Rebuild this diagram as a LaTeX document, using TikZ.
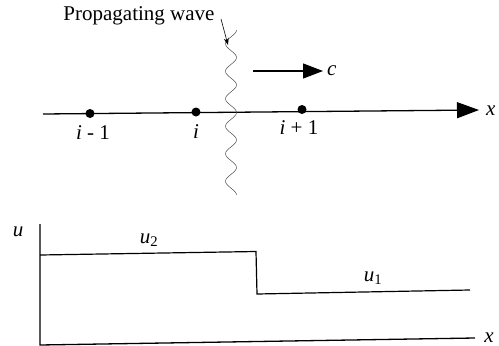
\documentclass[tikz,border=0pt]{standalone}
\usepackage{fontspec}
\setmainfont{Liberation Serif}
\usetikzlibrary{arrows.meta}
\begin{document}
\begin{tikzpicture}[x=1pt,y=-1pt,
  axis/.style={line width=1.3pt},
  bigtip/.style={-{Triangle[length=22pt,width=16pt]}},
  dotnode/.style={circle,fill=black,inner sep=0pt,minimum size=9pt},
  lab/.style={font=\fontsize{21}{24}\selectfont\itshape,inner sep=1pt},
  txt/.style={font=\fontsize{21}{24}\selectfont,inner sep=1pt},
  steplin/.style={line width=1.2pt}]
\useasboundingbox (0,0) rectangle (499,346);
% top axis
\coordinate (a0) at (43,114);
\coordinate (a1) at (479,110);
\draw[axis,bigtip] (a0) -- (a1);
\node[lab,anchor=west] (xl) at (485,111) {x};
\node[dotnode] (p1) at (90,113.5) {};
\node[dotnode] (p2) at (196,112) {};
\node[dotnode] (p3) at (302,109.5) {};
\node[lab] (l1) at (93,133) {i \upshape - 1};
\node[lab] (l2) at (196,132) {i};
\node[lab] (l3) at (299,128) {i \upshape + 1};
% c arrow
\coordinate (c0) at (253,71);
\coordinate (c1) at (323,71);
\draw[line width=1.2pt,-{Triangle[length=20pt,width=15pt]}] (c0) -- (c1);
\node[lab,anchor=west] (cl) at (326,71) {c};
% wave
\draw[line width=0.5pt,black!70,smooth,samples=120,domain=0:1]
  plot ({231+5.5*sin(\x*6*360+90)},{30+165*\x});
\node[txt] (pw) at (139,16) {Propagating wave};
\coordinate (w0) at (221,19);
\coordinate (w1) at (228,45);
\draw[line width=0.6pt,-{Stealth[length=7pt,width=5pt]}] (w0) -- (w1);
% bottom plot
\coordinate (o) at (40,345);
\coordinate (ut) at (40,224);
\coordinate (xr) at (475,338);
\draw[axis] (ut) -- (o) -- (xr);
\node[lab] (ul) at (18,232) {u};
\node[lab,anchor=east] (xl2) at (495,338) {x};
\coordinate (s0) at (40,255);
\coordinate (s1) at (256,251.5);
\coordinate (s2) at (257,294);
\coordinate (s3) at (470,290);
\draw[steplin] (s0) -- (s1) -- (s2) -- (s3);
\node[lab] (u2) at (149,240) {u\textsubscript{\upshape 2}};
\node[lab] (u1) at (373,278) {u\textsubscript{\upshape 1}};
\end{tikzpicture}
\end{document}
